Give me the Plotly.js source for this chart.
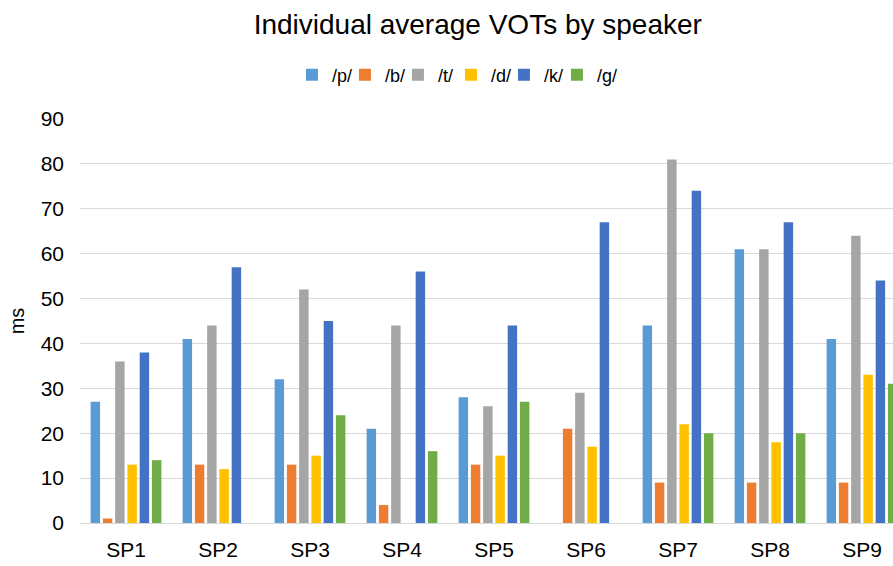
<!DOCTYPE html>
<html><head><meta charset="utf-8">
<script src="https://cdn.plot.ly/plotly-3.0.1.min.js"></script>
<style>html,body{margin:0;padding:0;overflow:hidden;background:#fff}</style>
</head><body><div id="chart" style="width:910px;height:566px"></div>
<script>
const speakers = ["SP1","SP2","SP3","SP4","SP5","SP6","SP7","SP8","SP9"];
const p = [27,41,32,21,28,0,44,61,41];
const b = [1,13,13,4,13,21,9,9,9];
const t = [36,44,52,44,26,29,81,61,64];
const d = [13,12,15,0,15,17,22,18,33];
const k = [38,57,45,56,44,67,74,67,54];
const g = [14,0,24,16,27,0,20,20,31];
const seriesNames = ["/p/","/b/","/t/","/d/","/k/","/g/"];
const seriesValues = [p,b,t,d,k,g];
const colors = ["#5b9bd5","#ed7d31","#a5a5a5","#ffc000","#4472c4","#70ad47"];
const traces = seriesNames.map((n,i)=>({type:"bar",name:n,x:speakers,y:seriesValues[i],marker:{color:colors[i]}}));
// invisible spacer entry so the last legend label is not clipped
traces.push({type:"scatter",mode:"markers",name:" ",x:[null],y:[null],marker:{color:"rgba(0,0,0,0)"},hoverinfo:"skip"});
const layout = {
  width:910,height:566,
  margin:{l:80,r:2,t:119,b:43},
  font:{family:"Liberation Sans, Arial, sans-serif",color:"#000"},
  title:{text:"Individual average VOTs by speaker",font:{size:28,color:"#000"},x:0.525,xanchor:"center",y:0.958,yanchor:"middle"},
  showlegend:true,
  legend:{orientation:"h",x:0.48,xanchor:"center",y:1.109,yanchor:"middle",font:{size:18},traceorder:"normal",itemwidth:30,entrywidth:8,entrywidthmode:"pixels"},
  bargap:0.2,bargroupgap:0.23,
  xaxis:{tickfont:{size:21},showgrid:false,showline:true,linecolor:"#d9d9d9",linewidth:1,ticks:"",fixedrange:true,ticklabelstandoff:8},
  yaxis:{range:[0,90],dtick:10,tickfont:{size:21},gridcolor:"#d9d9d9",gridwidth:1,zeroline:false,ticks:"",ticklen:0,ticklabelstandoff:15,
         title:{text:"ms",font:{size:20},standoff:10}},
  plot_bgcolor:"#fff",paper_bgcolor:"#fff"
};
Plotly.newPlot("chart",traces,layout,{displayModeBar:false,staticPlot:true});
</script></body></html>
